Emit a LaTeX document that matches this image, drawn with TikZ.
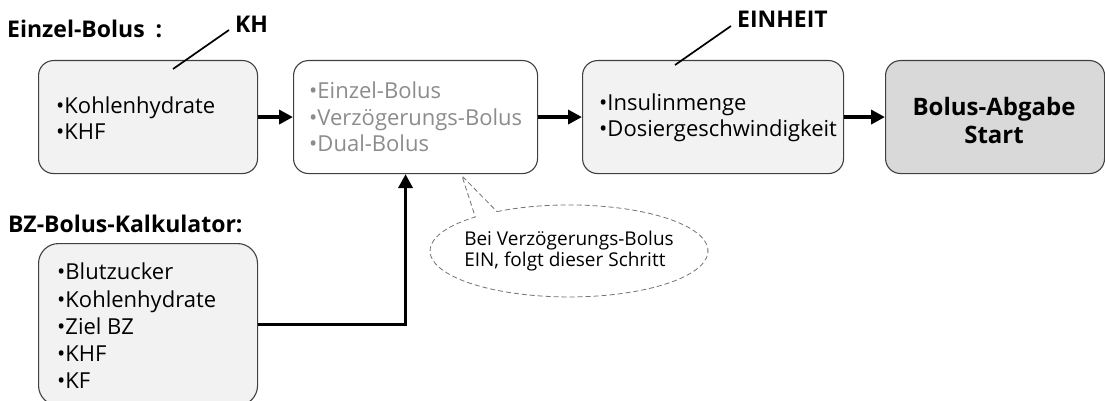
\documentclass[tikz,border=0pt]{standalone}
\usepackage{fontspec}
\setmainfont{Open Sans}
\usetikzlibrary{arrows.meta}
\begin{document}
\begin{tikzpicture}[x=1pt,y=-1pt,
  box/.style={draw=black!75, line width=1.1pt, rounded corners=15pt, anchor=north west, inner sep=0pt},
  txt/.style={anchor=west, inner sep=0pt, align=left, font=\fontsize{22}{26.5}\selectfont},
  arr/.style={line width=3.6pt, -{Triangle[length=14pt,width=14pt]}},
  ttl/.style={anchor=base west, inner sep=0pt, font=\fontsize{23}{27}\selectfont\bfseries},
  lead/.style={line width=1.7pt},
  bubble/.style={draw=black!55, line width=0.8pt, dash pattern=on 5pt off 3pt, fill=white}
]
\useasboundingbox (0,0) rectangle (1105,401);

% boxes
\node[box, fill=black!5, minimum width=219, minimum height=113] (b1) at (38,60) {};
\node[box, fill=white, minimum width=244, minimum height=113] (b2) at (293,60) {};
\node[box, fill=black!5, minimum width=261, minimum height=113] (b3) at (582,60) {};
\node[box, fill=black!15, minimum width=219, minimum height=113] (b4) at (885,60) {};
\node[box, fill=black!5, rounded corners=20pt, minimum width=219, minimum height=162] (b5) at (38,243) {};

% box texts
\node[txt] (t1) at (56,118) {\textbullet Kohlenhydrate\\\textbullet KHF};
\node[txt, text=black!45] (t2) at (309,117) {\textbullet Einzel-Bolus\\\textbullet Verzögerungs-Bolus\\\textbullet Dual-Bolus};
\node[txt] (t3) at (599,118) {\textbullet Insulinmenge\\\textbullet Dosiergeschwindigkeit};
\node[txt, anchor=center, align=center, font=\fontsize{24}{28}\selectfont\bfseries] (t4) at (994,120) {Bolus-Abgabe\\Start};
\node[txt, font=\fontsize{22}{27.2}\selectfont] (t5) at (57,326) {\textbullet Blutzucker\\\textbullet Kohlenhydrate\\\textbullet Ziel BZ\\\textbullet KHF\\\textbullet KF};

% titles and labels
\node[ttl] (ttl1) at (7,38) {Einzel-Bolus\hspace{11pt}:};
\node[ttl] (ttl2) at (8,232) {BZ-Bolus-Kalkulator:};
\node[ttl] (kh) at (235,33) {KH};
\node[ttl] (eh) at (737,28) {EINHEIT};

\coordinate (khp) at (173,69);
\coordinate (ehp) at (675,65);
\draw[lead] (khp) -- ([shift={(-6,-3)}]kh.base west);
\draw[lead] (ehp) -- ([shift={(-6,-2)}]eh.base west);

% arrows
\draw[arr] (b1) -- (b2);
\draw[arr] (b2) -- (b3);
\draw[arr] (b3) -- (b4);
\draw[arr] (b5.east) -| ([xshift=-10pt]b2.south);

% callout bubble
\coordinate (nc) at (569,251);
\coordinate (tip) at (462,176);
\draw[bubble] ([shift={(-72,-39.4)}]nc) arc[start angle=-121.2, end angle=227.6, x radius=139, y radius=46] -- (tip) -- cycle;
\node[inner sep=0pt, align=left, font=\fontsize{19}{21.5}\selectfont] (note) at (nc)
  {Bei Verzögerungs-Bolus\\EIN, folgt dieser Schritt};
\end{tikzpicture}
\end{document}
